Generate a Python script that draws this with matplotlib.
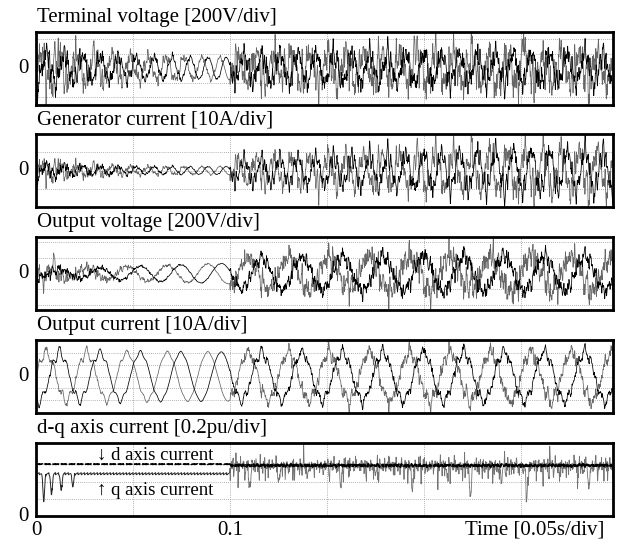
import numpy as np
import matplotlib
matplotlib.use("Agg")
import matplotlib.pyplot as plt

plt.rcParams["font.family"] = ["Liberation Serif", "DejaVu Serif"]

# ---------------------------------------------------------------- data
T_END = 0.2975
titles = ["Terminal voltage [200V/div]", "Generator current [10A/div]",
          "Output voltage [200V/div]", "Output current [10A/div]",
          "d-q axis current [0.2pu/div]"]
x_tick_pos = [0.0, 0.1]
x_tick_labels = ["0", "0.1"]
x_label = "Time [0.05s/div]"

# envelope knots (s)
knot_t = [0.0, 0.02, 0.05, 0.0999, 0.1001, 0.15, 0.2, 0.25, 0.2975]

# fundamental frequencies (Hz)
gen_freq = [108, 108, 108, 108, 108, 108, 108, 108, 108]
out_freq = [48, 48, 48, 48, 48, 48, 48, 48, 48]

# amplitudes (div) of fundamental, low-order distortion and switching ripple
term_v_amp = [1.0, 0.9, 0.75, 0.75, 0.9, 1.0, 1.0, 1.0, 1.0]
term_v_dst = [0.3, 0.25, 0.1, 0.0, 0.2, 0.2, 0.2, 0.2, 0.2]
term_v_rip = [1.2, 0.9, 0.45, 0.05, 0.85, 0.9, 0.95, 1.0, 0.95]
gen_i_amp = [0.3, 0.25, 0.2, 0.22, 0.6, 0.75, 0.95, 1.1, 1.1]
gen_i_dst = [0.1, 0.05, 0.02, 0.0, 0.2, 0.25, 0.25, 0.25, 0.25]
gen_i_rip = [0.5, 0.3, 0.12, 0.02, 0.35, 0.45, 0.55, 0.65, 0.6]
out_v_amp = [0.2, 0.3, 0.45, 0.65, 0.95, 1.05, 1.1, 1.1, 1.05]
out_v_dst = [0.1, 0.05, 0.0, 0.0, 0.1, 0.1, 0.1, 0.1, 0.1]
out_v_rip = [0.45, 0.3, 0.12, 0.02, 0.45, 0.6, 0.7, 0.7, 0.6]
out_i_amp = [2.0, 2.0, 2.0, 2.05, 2.0, 2.0, 2.05, 2.05, 2.05]
out_i_dst = [0.35, 0.3, 0.12, 0.0, 0.25, 0.25, 0.25, 0.25, 0.25]
out_i_rip = [0.2, 0.15, 0.05, 0.02, 0.3, 0.4, 0.45, 0.45, 0.4]

# ripple weight of the gray and black trace in each panel
trace_rip_weight = [1.2, 0.7]

# ripple spectrum: frequency (Hz), relative amplitude, phase (rad)
rip_freq = [330, 470, 690, 950, 1310, 1790, 2330]
rip_amp = [0.5, 0.45, 0.45, 0.4, 0.35, 0.3, 0.25]
rip_phase = [0.3, 1.9, 4.1, 2.6, 5.2, 0.9, 3.4]

# isolated spikes (time s, height div)
term_v_spk_t = [0.128, 0.195, 0.236, 0.251, 0.262]
term_v_spk_h = [1.3, 1.2, -1.4, 1.4, -1.1]
out_v_spk_t = [0.004, 0.009, 0.161, 0.198, 0.224, 0.262]
out_v_spk_h = [-1.1, 0.9, 0.9, 1.0, 1.1, 0.9]

# d-q currents (pu)
dq_knot_t = [0.0, 0.0999, 0.1001, 0.2975]
d_level = [0.60, 0.60, 0.585, 0.585]
q_level = [0.49, 0.49, 0.585, 0.585]
q_spk_t = [0.004, 0.008, 0.013, 0.019, 0.110, 0.125, 0.140, 0.157, 0.175,
           0.194, 0.212, 0.224, 0.240, 0.253, 0.270, 0.285]
q_spk_h = [-0.32, -0.25, -0.2, -0.15, -0.22, -0.2, -0.12, -0.25, -0.12,
           -0.3, -0.12, -0.38, -0.18, -0.4, -0.12, -0.27]
dq_ripple_freq = 600

# vertical ranges (div) and grid lines of each panel
y_lims = [(-2.5, 2.5), (-2.0, 2.0), (-2.3, 2.3), (-3.05, 3.05), (0, 0.84)]
y_grids = [[-2, -1, 1, 2], [-1, 0, 1], [-2, -1, 1, 2], [-2, -1, 0, 1, 2],
           [0.2, 0.4, 0.6]]

# ---------------------------------------------------------------- signals
t = np.linspace(0, T_END, 10000)


def env(vals):
    return np.interp(t, knot_t, vals)


def phase_angle(freqs):
    f = env(freqs)
    return 2 * np.pi * np.concatenate([[0], np.cumsum(0.5 * (f[1:] + f[:-1]) * np.diff(t))])


def ripple(k, scale=1.0):
    r = np.zeros_like(t)
    for f, a, p in zip(rip_freq, rip_amp, rip_phase):
        r += a * np.sin(2 * np.pi * f * scale * t + p + 2.3 * k) \
            * np.sin(2 * np.pi * f * 0.071 * t + p * (k + 1))
    return r


def spikes(times, heights, width=0.0007):
    s = np.zeros_like(t)
    for ts, h in zip(times, heights):
        s += h * np.exp(-((t - ts) / width) ** 2)
    return s


def two_phase(freqs, amp, dst, rip, spk=None):
    """Phase a and phase b (120 deg apart) of a three-phase quantity."""
    th = phase_angle(freqs)
    out = []
    for k in range(2):
        a = th - 2 * np.pi * k / 3
        y = env(amp) * np.sin(a) + env(dst) * (np.sin(5 * a) - 0.6 * np.sin(7 * a)) \
            + trace_rip_weight[k] * env(rip) * ripple(k)
        if spk is not None and k == 0:
            y = y + spikes(*spk)
        out.append(y)
    return out


panels = [
    two_phase(gen_freq, term_v_amp, term_v_dst, term_v_rip, (term_v_spk_t, term_v_spk_h)),
    two_phase(gen_freq, gen_i_amp, gen_i_dst, gen_i_rip),
    two_phase(out_freq, out_v_amp, out_v_dst, out_v_rip, (out_v_spk_t, out_v_spk_h)),
    two_phase(out_freq, out_i_amp, out_i_dst, out_i_rip),
]

# ---------------------------------------------------------------- figure
fig = plt.figure(figsize=(6.2, 5.45), dpi=100)
W, H = 620, 545
left, right = 36, 613
tops = [31.7, 134, 237, 340, 443.3]
height = 73
colors = ["0.4", "black"]

axes = []
for i in range(5):
    ax = fig.add_axes([left / W, 1 - (tops[i] + height) / H, (right - left) / W, height / H])
    axes.append(ax)
    ax.set_xlim(0, T_END)
    ax.set_ylim(*y_lims[i])
    for gx in np.arange(0.05, T_END, 0.05):
        ax.axvline(gx, color="0.6", lw=0.6, ls=(0, (1, 1.5)), zorder=0)
    for gy in y_grids[i]:
        ax.axhline(gy, color="0.6", lw=0.6, ls=(0, (1, 1.5)), zorder=0)
    for s in ax.spines.values():
        s.set_linewidth(2.0)
    ax.set_xticks([])
    ax.set_yticks([])
    fig.text(left / W + 0.002, 1 - (tops[i] - 10) / H, titles[i], fontsize=15,
             ha="left", va="baseline")
    ax.text(-0.012, 0, "0", transform=ax.get_yaxis_transform(), fontsize=15,
            ha="right", va="center")

for ax, traces in zip(axes[:4], panels):
    for k, y in enumerate(traces):
        ax.plot(t, y, color=colors[k], lw=0.55)

# d-q currents
ax = axes[4]
d_cur = np.interp(t, dq_knot_t, d_level)
q_cur = np.interp(t, dq_knot_t, q_level)
saw = ((t * dq_ripple_freq) % 1.0) - 0.5
pre = t < 0.1
q_post = 0.05 * ripple(1, 1.4) - 0.14 * np.clip(ripple(2, 0.9), 0, None) ** 1.5 \
    + 0.08 * np.clip(ripple(0, 1.1), 0, None) ** 2
q_cur = q_cur + np.where(pre, 0.025 * saw, q_post) + spikes(q_spk_t, q_spk_h, 0.0006)
d_cur = d_cur + np.where(pre, 0.005 * saw, 0.014 * ripple(2, 1.3))
ax.plot(t[~pre], q_cur[~pre], color="0.45", lw=0.6)
ax.plot(t[pre], q_cur[pre], color="0.15", lw=0.7)
ax.plot(t, d_cur, color="black", lw=1.3, ls=(0, (4, 1)))
ax.text(0.0912, 0.707, "\u2193 d axis current", fontsize=13.5, ha="right", va="center")
ax.text(0.0912, 0.30, "\u2191 q axis current", fontsize=13.5, ha="right", va="center")

# time axis labels
for xp, lab in zip(x_tick_pos, x_tick_labels):
    ax.text(xp, -0.06, lab, transform=ax.get_xaxis_transform(), fontsize=15,
            ha="center", va="top")
ax.text(0.985, -0.06, x_label, transform=ax.transAxes, fontsize=15, ha="right", va="top")

fig.savefig("out.png", dpi=100)
